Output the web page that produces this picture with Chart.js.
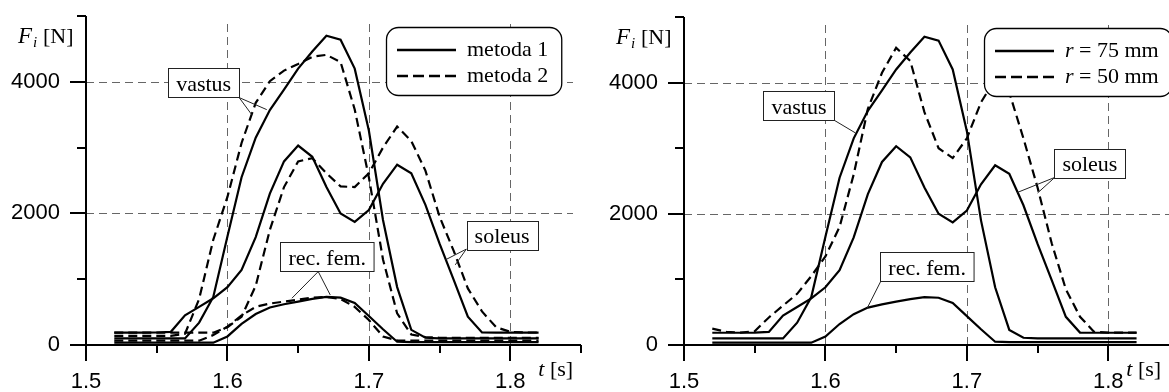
<!DOCTYPE html>
<html>
<head>
<meta charset="utf-8">
<script src="https://cdn.jsdelivr.net/npm/chart.js@4.4.0/dist/chart.umd.min.js"></script>
<style>
html, body { margin: 0; padding: 0; background: #fff; overflow: hidden; width: 1169px; height: 392px; }
canvas { position: absolute; top: 0; }
#left { left: 0; }
#right { left: 598px; }
</style>
</head>
<body>
<canvas id="left" width="590" height="392"></canvas>
<canvas id="right" width="590" height="392"></canvas>
<script>
/* time axis [s] */
const time = [1.52, 1.53, 1.54, 1.55, 1.56, 1.57, 1.58, 1.59, 1.60, 1.61, 1.62, 1.63, 1.64, 1.65, 1.66, 1.67,
	1.68, 1.69, 1.70, 1.71, 1.72, 1.73, 1.74, 1.75, 1.76, 1.77, 1.78, 1.79, 1.80, 1.81, 1.82]

/* muscle forces [N], metoda 1 (same as r = 75 mm) */
const vastus1 = [100, 100, 100, 100, 100, 100, 340, 730, 1650, 2550, 3150, 3570, 3880, 4200, 4460, 4700,
	4640, 4200, 3260, 1900, 880, 230, 110, 100, 100, 100, 100, 100, 100, 100, 100]
const soleus1 = [187, 187, 187, 190, 200, 450, 580, 710, 880, 1140, 1640, 2300, 2790, 3030, 2860, 2400,
	2000, 1870, 2050, 2450, 2740, 2610, 2130, 1540, 990, 430, 190, 187, 187, 187, 187]
const recfem1 = [35, 35, 35, 35, 35, 35, 35, 35, 130, 320, 470, 570, 620, 660, 700, 730,
	720, 640, 440, 240, 50, 45, 45, 45, 45, 45, 45, 45, 45, 45, 45]

/* metoda 2 */
const vastus2 = [140, 140, 140, 140, 140, 170, 700, 1600, 2250, 3070, 3680, 4010, 4170, 4270, 4380, 4410,
	4300, 3580, 2550, 1300, 480, 160, 120, 110, 110, 110, 110, 110, 110, 110, 110]
const soleus2 = [187, 187, 187, 187, 187, 187, 187, 187, 270, 430, 900, 1750, 2400, 2790, 2840, 2610,
	2410, 2400, 2610, 3000, 3320, 3100, 2650, 1950, 1430, 860, 510, 270, 200, 190, 190]
const recfem2 = [65, 65, 65, 65, 65, 65, 65, 150, 280, 450, 580, 630, 660, 690, 720, 730,
	700, 580, 380, 130, 70, 65, 65, 65, 65, 65, 65, 65, 65, 65, 65]

/* r = 50 mm, soleus */
const soleus50 = [250, 200, 190, 210, 420, 600, 780, 1050, 1350, 1800, 2600, 3600, 4150, 4530, 4330, 3550,
	3000, 2850, 3150, 3700, 4050, 3850, 3150, 2400, 1550, 850, 430, 200, 190, 190, 190]

const leftLegend = ['metoda 1', 'metoda 2']
const rightLegend = ['r = 75 mm', 'r = 50 mm']

/* axes */
const xLabels = [1.5, 1.6, 1.7, 1.8]
const xMinor = [1.55, 1.65, 1.75, 1.85]
const yLabels = [0, 2000, 4000]
const yMinor = [1000, 3000, 5000]
const xGrid = [1.6, 1.7, 1.8]
const yGrid = [2000, 4000]

const serif = '"Liberation Serif", "Times New Roman", serif'
const sans = '"Liberation Sans", Arial, sans-serif'

// single-letter words are variables, drawn italic
const drawRich = (ctx, str, x, y, size, dry) => {
	let cx = x
	for (const p of str.split(/(\s+)/)) {
		ctx.font = (/^[a-zA-Z]$/.test(p) ? 'italic ' : '') + size + 'px ' + serif
		if (!dry) ctx.fillText(p, cx, y)
		cx += ctx.measureText(p).width
	}
	return cx - x
}

const line = (ctx, x1, y1, x2, y2) => {
	ctx.beginPath()
	ctx.moveTo(x1, y1)
	ctx.lineTo(x2, y2)
	ctx.stroke()
}

const makeDecor = (panel) => ({
	id: 'decor',
	beforeDatasetsDraw(chart) {
		const ctx = chart.ctx
		const { left, right, top, bottom } = chart.chartArea
		const sx = chart.scales.x, sy = chart.scales.y
		ctx.save()
		ctx.strokeStyle = '#666'
		ctx.lineWidth = 1
		ctx.setLineDash([8, 5])
		xGrid.forEach(v => {
			const p = Math.round(sx.getPixelForValue(v)) + 0.5
			line(ctx, p, top + 8, p, bottom)
		})
		yGrid.forEach(v => {
			const p = Math.round(sy.getPixelForValue(v)) + 0.5
			line(ctx, left, p, right - 8, p)
		})
		ctx.restore()
	},
	afterDatasetsDraw(chart) {
		const ctx = chart.ctx
		const { left, right, top, bottom } = chart.chartArea
		const sx = chart.scales.x, sy = chart.scales.y
		const px = v => sx.getPixelForValue(v)
		const py = v => sy.getPixelForValue(v)
		ctx.save()

		// axes and ticks
		ctx.strokeStyle = '#000'
		ctx.lineWidth = 2
		line(ctx, left, top, left, bottom + 16)
		line(ctx, left - 16, bottom, right, bottom)
		yLabels.forEach(v => line(ctx, left - 16, Math.round(py(v)), left, Math.round(py(v))))
		yMinor.forEach(v => line(ctx, left - 9, Math.round(py(v)), left, Math.round(py(v))))
		xLabels.forEach(v => line(ctx, Math.round(px(v)), bottom, Math.round(px(v)), bottom + 16))
		xMinor.forEach(v => line(ctx, Math.round(px(v)), bottom, Math.round(px(v)), bottom + 8))

		// labelled boxes with leader lines
		ctx.fillStyle = '#000'
		panel.notes.forEach(n => {
			ctx.strokeStyle = '#222'
			ctx.lineWidth = 1
			n.to.forEach(t => line(ctx, px(n.from[0]), py(n.from[1]), px(t[0]), py(t[1])))
			ctx.font = '22px ' + serif
			const w = ctx.measureText(n.text).width + 16
			const h = 29
			const cx = px(n.at[0]), cy = py(n.at[1])
			const bx = Math.round(cx - w / 2) + 0.5, by = Math.round(cy - h / 2) + 0.5
			ctx.fillStyle = '#fff'
			ctx.fillRect(bx, by, w, h)
			ctx.strokeRect(bx, by, w, h)
			ctx.fillStyle = '#000'
			ctx.textAlign = 'center'
			ctx.fillText(n.text, cx, cy + 8)
			ctx.textAlign = 'left'
		})

		// legend
		const labels = chart.data.datasets.filter(d => d.inLegend).map(d => d.label)
		const tw = Math.max(...labels.map(l => drawRich(ctx, l, 0, 0, 22, true)))
		const lx = left + 300, ly = top + 11, lw = 81 + tw + 13, lh = 68
		ctx.beginPath()
		ctx.roundRect(Math.round(lx) + 0.5, Math.round(ly) + 0.5, lw, lh, 12)
		ctx.fillStyle = '#fff'
		ctx.fill()
		ctx.strokeStyle = '#000'
		ctx.lineWidth = 1.3
		ctx.stroke()
		ctx.fillStyle = '#000'
		labels.forEach((l, i) => {
			const yy = ly + 23 + i * 26
			ctx.lineWidth = 2.4
			ctx.setLineDash(i ? [11, 5] : [])
			line(ctx, lx + 11, yy, lx + 70, yy)
			ctx.setLineDash([])
			drawRich(ctx, l, lx + 81, yy + 6, 22)
		})

		// axis titles
		const x0 = left - 68, base = top + 27
		ctx.font = 'italic 23px ' + serif
		ctx.fillText('F', x0, base)
		ctx.font = 'italic 15px ' + serif
		ctx.fillText('i', x0 + 15, base + 4)
		ctx.font = '22px ' + serif
		ctx.fillText('[N]', x0 + 25, base)
		drawRich(ctx, 't [s]', px(1.8) + panel.tOffset, bottom + 31, 22)

		ctx.restore()
	}
})

const series = (label, values, dashed, inLegend) => ({
	label,
	inLegend,
	data: time.map((t, i) => ({ x: t, y: values[i] })),
	borderColor: '#000',
	borderWidth: 2.2,
	borderDash: dashed ? [9, 5] : [],
	pointRadius: 0,
	tension: 0,
	fill: false
})

const makeChart = (id, datasets, panel) => new Chart(document.getElementById(id), {
	type: 'line',
	data: { datasets },
	options: {
		responsive: false,
		animation: false,
		devicePixelRatio: 1,
		layout: { padding: { top: panel.top, right: 9, left: 0, bottom: 0 } },
		plugins: { legend: { display: false }, tooltip: { enabled: false } },
		scales: {
			x: {
				type: 'linear', min: 1.5, max: 1.85,
				afterFit: s => { s.height = 47; s.paddingLeft = 0; s.paddingRight = 0 },
				afterBuildTicks: s => { s.ticks = xLabels.map(v => ({ value: v })) },
				ticks: { callback: v => v.toFixed(1), padding: 24, autoSkip: false, maxRotation: 0, color: '#000', font: { family: sans, size: 22 } },
				grid: { display: false, drawTicks: false },
				border: { display: false }
			},
			y: {
				min: 0, max: 5000,
				afterFit: s => { s.width = 86; s.paddingTop = 0; s.paddingBottom = 0 },
				afterBuildTicks: s => { s.ticks = yLabels.map(v => ({ value: v })) },
				ticks: { callback: v => String(v), padding: 26, color: '#000', font: { family: sans, size: 22 } },
				grid: { display: false, drawTicks: false },
				border: { display: false }
			}
		}
	},
	plugins: [makeDecor(panel)]
})

makeChart('left', [
	series(leftLegend[0], vastus1, false, true),
	series(leftLegend[1], vastus2, true, true),
	series('soleus 1', soleus1, false),
	series('soleus 2', soleus2, true),
	series('rec. fem. 1', recfem1, false),
	series('rec. fem. 2', recfem2, true)
], {
	top: 16,
	tOffset: 28,
	notes: [
		{ text: 'vastus', at: [1.5832, 3988], from: [1.6083, 3760], to: [[1.6278, 3577], [1.6172, 3500]] },
		{ text: 'rec. fem.', at: [1.6706, 1339], from: [1.6642, 1116], to: [[1.6456, 711], [1.6727, 761]] },
		{ text: 'soleus', at: [1.7942, 1671], from: [1.7689, 1457], to: [[1.7541, 1294], [1.7611, 1218]] }
	]
})

makeChart('right', [
	series(rightLegend[0], vastus1, false, true),
	series(rightLegend[1], soleus50, true, true),
	series('soleus 75', soleus1, false),
	series('rec. fem.', recfem1, false)
], {
	top: 17,
	tOffset: 18,
	notes: [
		{ text: 'vastus', at: [1.5813, 3647], from: [1.6063, 3425], to: [[1.6212, 3233]] },
		{ text: 'rec. fem.', at: [1.6719, 1191], from: [1.6389, 962], to: [[1.6295, 560]] },
		{ text: 'soleus', at: [1.7870, 2773], from: [1.7622, 2555], to: [[1.7358, 2326], [1.75, 2317]] }
	]
})
</script>
</body>
</html>
